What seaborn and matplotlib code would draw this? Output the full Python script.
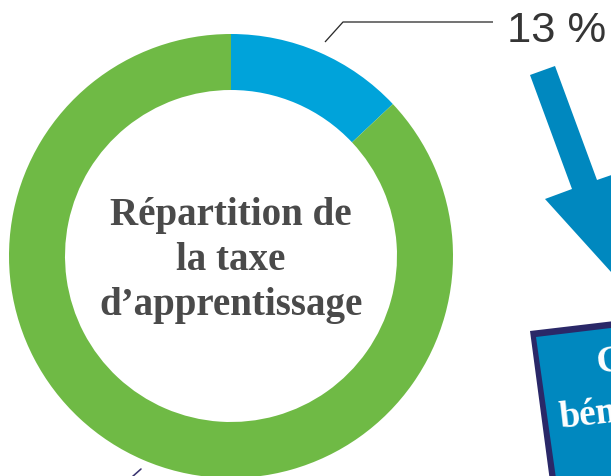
import matplotlib
matplotlib.use("Agg")
import matplotlib.pyplot as plt
from matplotlib.patches import Polygon
import seaborn as sns

# data
shares = [13, 87]
share_colors = ["#00A3DA", "#6FBA45"]
label_top = "13 %"
centre_lines = ["Répartition de", "la taxe", "d’apprentissage"]
box_lines = ["Ce qui", "bénéficie"]

sns.set_style("white")

W, H = 611, 477
fig = plt.figure(figsize=(W / 100, H / 100), dpi=100)
ax = fig.add_axes([0, 0, 1, 1])


def fy(y):
    # image pixel row -> data y
    return H - y


PX = 72 / 100  # points per pixel

cx, cy, r_out, r_in = 231, 257, 222, 166
ax.pie(shares, colors=share_colors, startangle=90, counterclock=False,
       center=(cx, fy(cy)), radius=r_out, frame=True,
       wedgeprops=dict(width=r_out - r_in, linewidth=0))

# leader line to the 13 % label
ax.plot([325, 343, 493], [fy(43), fy(23), fy(23)], color="#2b2b2b",
        lw=1.3 * PX, solid_capstyle="butt")
ax.text(507, fy(42), label_top, fontsize=43.5 * PX, color="#353535",
        family="Liberation Sans", ha="left", va="baseline")

# small leader line at the bottom
ax.plot([132, 141], [fy(478), fy(470)], color="#3a3470", lw=1.6 * PX)

# arrow
arrow = [(530, 76), (555, 67), (597, 181), (626, 171), (621, 284),
         (545, 200), (572, 190)]
ax.add_patch(Polygon([(x, fy(y)) for x, y in arrow], closed=True,
                     facecolor="#0088BF", edgecolor="none"))

# box
outer = [(530, 332), (640, 319), (660, 490), (551, 490)]
inner = [(536, 338), (640, 325.5), (660, 490), (557.5, 490)]
ax.add_patch(Polygon([(x, fy(y)) for x, y in outer], closed=True,
                     facecolor="#2A2868", edgecolor="none"))
ax.add_patch(Polygon([(x, fy(y)) for x, y in inner], closed=True,
                     facecolor="#0088BF", edgecolor="none"))
ax.text(598, fy(373), box_lines[0], fontsize=37 * PX, color="white",
        family="Liberation Serif", weight="bold", rotation=6.5,
        rotation_mode="anchor", ha="left", va="baseline")
ax.text(560, fy(428), box_lines[1], fontsize=37 * PX, color="white",
        family="Liberation Serif", weight="bold", rotation=6.5,
        rotation_mode="anchor", ha="left", va="baseline")

# centre title
for i, line in enumerate(centre_lines):
    ax.text(cx, fy(225 + 45 * i), line, fontsize=39 * PX, color="#4a4a4a",
            family="Liberation Serif", weight="bold", ha="center",
            va="baseline")

ax.set_xlim(0, W)
ax.set_ylim(0, H)
ax.set_aspect("equal")
ax.axis("off")

fig.savefig("out.png", dpi=100)
